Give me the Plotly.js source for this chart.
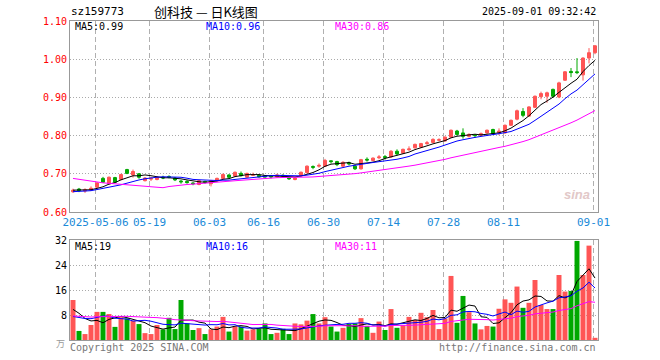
<!DOCTYPE html>
<html><head><meta charset="utf-8">
<script src="https://cdn.plot.ly/plotly-3.0.1.min.js"></script>
<style>html,body{margin:0;padding:0;background:#fff;}#chart{width:660px;height:360px;}</style>
</head><body><div id="chart"></div>
<script>
// Trading days shown
const dates = ['2025-04-25','2025-04-28','2025-04-29','2025-04-30','2025-05-06','2025-05-07','2025-05-08','2025-05-09','2025-05-12','2025-05-13','2025-05-14','2025-05-15','2025-05-16','2025-05-19','2025-05-20','2025-05-21','2025-05-22','2025-05-23','2025-05-26','2025-05-27','2025-05-28','2025-05-29','2025-05-30','2025-06-03','2025-06-04','2025-06-05','2025-06-06','2025-06-09','2025-06-10','2025-06-11','2025-06-12','2025-06-13','2025-06-16','2025-06-17','2025-06-18','2025-06-19','2025-06-20','2025-06-23','2025-06-24','2025-06-25','2025-06-26','2025-06-27','2025-06-30','2025-07-01','2025-07-02','2025-07-03','2025-07-04','2025-07-07','2025-07-08','2025-07-09','2025-07-10','2025-07-11','2025-07-14','2025-07-15','2025-07-16','2025-07-17','2025-07-18','2025-07-21','2025-07-22','2025-07-23','2025-07-24','2025-07-25','2025-07-28','2025-07-29','2025-07-30','2025-07-31','2025-08-01','2025-08-04','2025-08-05','2025-08-06','2025-08-07','2025-08-08','2025-08-11','2025-08-12','2025-08-13','2025-08-14','2025-08-15','2025-08-18','2025-08-19','2025-08-20','2025-08-21','2025-08-22','2025-08-25','2025-08-26','2025-08-27','2025-08-28','2025-08-29','2025-09-01'];

const openP = [0.653,0.660,0.655,0.658,0.665,0.688,0.674,0.690,0.685,0.711,
 0.697,0.700,0.682,0.686,0.685,0.691,0.693,0.689,0.681,0.680,
 0.676,0.672,0.680,0.674,0.682,0.688,0.697,0.694,0.701,0.691,
 0.696,0.696,0.694,0.694,0.692,0.696,0.690,0.685,0.695,0.703,
 0.719,0.720,0.720,0.734,0.732,0.720,0.729,0.720,0.713,0.738,
 0.735,0.742,0.745,0.744,0.759,0.754,0.763,0.768,0.770,0.779,
 0.782,0.788,0.786,0.796,0.812,0.807,0.798,0.801,0.801,0.807,
 0.816,0.808,0.807,0.827,0.843,0.863,0.851,0.874,0.902,0.903,
 0.921,0.901,0.945,0.968,0.967,0.959,1.003,1.017];
const highP = [0.661,0.663,0.662,0.667,0.678,0.692,0.693,0.692,0.700,0.713,
 0.711,0.702,0.691,0.692,0.693,0.695,0.696,0.691,0.684,0.683,
 0.678,0.684,0.682,0.684,0.690,0.701,0.699,0.706,0.706,0.703,
 0.703,0.698,0.696,0.697,0.700,0.699,0.692,0.691,0.706,0.722,
 0.722,0.727,0.739,0.735,0.734,0.733,0.732,0.723,0.739,0.743,
 0.743,0.749,0.749,0.762,0.764,0.766,0.772,0.779,0.781,0.786,
 0.793,0.793,0.798,0.816,0.815,0.819,0.806,0.804,0.808,0.816,
 0.818,0.819,0.829,0.842,0.868,0.872,0.877,0.905,0.915,0.915,
 0.923,0.941,0.969,0.977,1.003,1.005,1.029,1.037];
const lowP = [0.650,0.652,0.650,0.655,0.662,0.676,0.672,0.676,0.683,0.699,
 0.690,0.687,0.680,0.681,0.683,0.686,0.688,0.681,0.674,0.674,
 0.670,0.670,0.674,0.667,0.680,0.686,0.688,0.692,0.693,0.689,
 0.694,0.690,0.690,0.688,0.690,0.690,0.684,0.683,0.693,0.701,
 0.712,0.716,0.718,0.727,0.720,0.718,0.722,0.710,0.711,0.732,
 0.733,0.738,0.737,0.742,0.748,0.752,0.760,0.766,0.768,0.776,
 0.780,0.785,0.784,0.794,0.800,0.792,0.795,0.794,0.799,0.805,
 0.802,0.801,0.805,0.825,0.840,0.848,0.849,0.872,0.895,0.886,
 0.900,0.898,0.943,0.953,0.961,0.944,0.989,1.013];
const closeP = [0.657,0.656,0.658,0.662,0.676,0.678,0.691,0.678,0.698,0.701,
 0.706,0.691,0.689,0.688,0.691,0.689,0.691,0.684,0.679,0.677,
 0.674,0.682,0.678,0.682,0.688,0.698,0.691,0.704,0.695,0.701,
 0.698,0.692,0.692,0.692,0.697,0.694,0.687,0.689,0.704,0.720,
 0.717,0.722,0.735,0.732,0.724,0.730,0.726,0.713,0.737,0.736,
 0.741,0.744,0.743,0.759,0.752,0.764,0.765,0.777,0.779,0.781,
 0.790,0.789,0.796,0.814,0.803,0.798,0.803,0.800,0.805,0.814,
 0.805,0.812,0.827,0.840,0.865,0.853,0.875,0.903,0.910,0.912,
 0.903,0.938,0.967,0.965,0.965,1.003,1.017,1.035];
// volume, 10k lots (万)
const volume = [12.8,2.9,1.9,4.8,9.0,9.0,8.3,4.2,7.3,6.9,
 6.2,5.1,2.2,1.9,4.8,3.4,7.1,3.5,12.8,5.3,
 3.2,3.8,1.9,3.4,4.3,7.4,2.7,4.3,4.3,3.0,
 3.4,3.6,5.3,1.9,2.3,3.6,1.9,5.3,5.0,6.2,
 8.3,5.3,7.3,4.3,2.7,3.9,5.1,5.3,7.0,4.5,
 2.3,5.9,3.2,9.9,3.9,4.7,7.4,6.4,8.7,7.3,
 9.6,3.5,6.9,20.5,5.5,14.1,8.9,5.3,3.4,4.5,
 4.3,10.0,13.0,11.9,17.1,10.3,11.9,19.2,11.2,9.9,
 9.9,20.8,15.5,15.7,31.7,20.8,30.2,0.7];
// sessions before the window (2025-03-14 .. 2025-04-24), needed for moving averages
const priorClose = [0.730,0.738,0.742,0.735,0.733,0.728,0.725,0.730,0.735,0.738,0.734,0.730,0.728,0.732,0.722,
 0.600,0.612,0.628,0.640,0.645,0.652,0.650,0.648,0.646,0.650,0.655,0.656,0.660,0.658];
const priorVolume = [6.8,7.5,6.2,5.9,6.4,7.0,6.1,5.8,6.6,7.2,6.3,5.9,6.5,6.8,7.5,
 14.5,12.0,13.2,9.8,8.0,6.2,5.1,5.4,4.6,5.0,9.2,10.1,8.8,8.1];

const tickDates = ['2025-05-06','2025-05-19','2025-06-03','2025-06-16','2025-06-30','2025-07-14','2025-07-28','2025-08-11','2025-09-01'];
const tickLabels = ['2025-05-06','05-19','06-03','06-16','06-30','07-14','07-28','08-11','09-01'];
const priceTicks = [0.60,0.70,0.80,0.90,1.00,1.10];
const volTicks = [8,16,24,32];

const RED = '#ff5555', GREEN = '#00a800';
const xi = dates.map((_, i) => i);                       // session index
const tickPos = tickDates.map(d => dates.indexOf(d) - 0.25); // grid sits at slot's left side
function movingAvg(prior, vals, n) {
  const all = prior.concat(vals), off = prior.length;
  return vals.map((_, i) => {
    let s = 0; for (let k = 0; k < n; k++) s += all[off + i - k];
    return s / n;
  });
}
const maDefs = [[5,'#000000'],[10,'#0000ff'],[30,'#ff00ff']];
const volColors = closeP.map((c, i) => c >= openP[i] ? RED : GREEN);

const traces = [{
  type:'candlestick', x:xi, open:openP, high:highP, low:lowP, close:closeP,
  xaxis:'x', yaxis:'y',
  increasing:{line:{color:RED,width:1}, fillcolor:RED},
  decreasing:{line:{color:GREEN,width:1}, fillcolor:GREEN},
  whiskerwidth:0, hoverinfo:'skip', showlegend:false
}];
maDefs.forEach(([n,c]) => traces.push({type:'scatter',mode:'lines',x:xi,y:movingAvg(priorClose,closeP,n),
  xaxis:'x',yaxis:'y',line:{color:c,width:1},hoverinfo:'skip',showlegend:false}));
traces.push({type:'bar',x:xi,y:volume,xaxis:'x2',yaxis:'y2',marker:{color:volColors,line:{width:0}},hoverinfo:'skip',showlegend:false});
maDefs.forEach(([n,c]) => traces.push({type:'scatter',mode:'lines',x:xi,y:movingAvg(priorVolume,volume,n),
  xaxis:'x2',yaxis:'y2',line:{color:c,width:1},hoverinfo:'skip',showlegend:false}));

const mono = 'DejaVu Sans Mono, monospace';
const L = 70, R = 598, T = 21, B = 340;
const W = R - L, H = B - T;
const px = x => (x - L) / W, py = y => (B - y) / H;
function ann(text, x, y, color, xanchor, size, family) {
  return {text, x:px(x), y:py(y), xref:'paper', yref:'paper', xanchor:xanchor||'left', yanchor:'middle',
    showarrow:false, font:{family:family||mono, size:size||10, color:color||'#000'}};
}
const gridX = {showgrid:true, gridcolor:'#b0b0b0', griddash:'5px,3px', gridwidth:1};
const layout = {
  width:660, height:360, margin:{l:L, r:660-R, t:T, b:360-B},
  paper_bgcolor:'#fff', plot_bgcolor:'#fff', bargap:0.17, showlegend:false, hovermode:false,
  xaxis:Object.assign({type:'linear', domain:[0,1], anchor:'y', range:[-0.5,87.5], tickmode:'array',
    tickvals:tickPos, ticktext:tickLabels, ticks:'', tickfont:{family:mono,size:11,color:'#1a8ad8'},
    showline:true, mirror:true, linecolor:'#999', linewidth:1, rangeslider:{visible:false}, fixedrange:true, zeroline:false}, gridX),
  yaxis:{domain:[(B-212)/H,1], range:[0.6,1.1], tickvals:priceTicks, tickformat:'.2f', ticks:'',
    tickfont:{family:mono,size:10,color:'#ff0000'}, showgrid:true, gridcolor:'#aaaaaa', griddash:'1px,2px',
    showline:true, mirror:true, linecolor:'#999', zeroline:false},
  xaxis2:Object.assign({type:'linear', domain:[0,1], anchor:'y2', matches:'x', range:[-0.5,87.5], tickmode:'array',
    tickvals:tickPos, showticklabels:false, ticks:'', showline:true, mirror:true, linecolor:'#999', zeroline:false}, gridX),
  yaxis2:{domain:[0,(B-240)/H], range:[0,32], tickvals:volTicks, ticks:'',
    tickfont:{family:mono,size:10,color:'#000'}, showgrid:true, gridcolor:'#aaaaaa', griddash:'1px,2px',
    showline:true, mirror:true, linecolor:'#999', zeroline:false},
  annotations:[
    ann('sz159773', 69, 12, '#000', 'left', 11),
    ann('创科技 — 日K线图', 206, 12, '#000', 'center', 13, 'Noto Sans CJK SC'),
    ann('2025-09-01 09:32:42', 598, 12, '#000', 'right', 10),
    ann('MA5:0.99', 73, 27, '#000'),
    ann('MA10:0.96', 204, 27, '#0000ff'),
    ann('MA30:0.86', 333, 27, '#ff00ff'),
    ann('MA5:19', 73, 247, '#000'),
    ann('MA10:16', 204, 247, '#0000ff'),
    ann('MA30:11', 333, 247, '#ff00ff'),
    ann('万', 67, 343, '#999', 'right', 9, 'Noto Sans CJK SC'),
    ann('Copyright 2025 SINA.COM', 68, 347, '#777', 'left', 10),
    ann('http://finance.sina.com.cn', 598, 347, '#777', 'right', 10),
    ann('<b><i>sina</i></b>', 577, 194, '#e2c8c8', 'center', 13, 'Liberation Sans')
  ]
};
Plotly.newPlot('chart', traces, layout, {displayModeBar:false, staticPlot:true});
</script></body></html>
